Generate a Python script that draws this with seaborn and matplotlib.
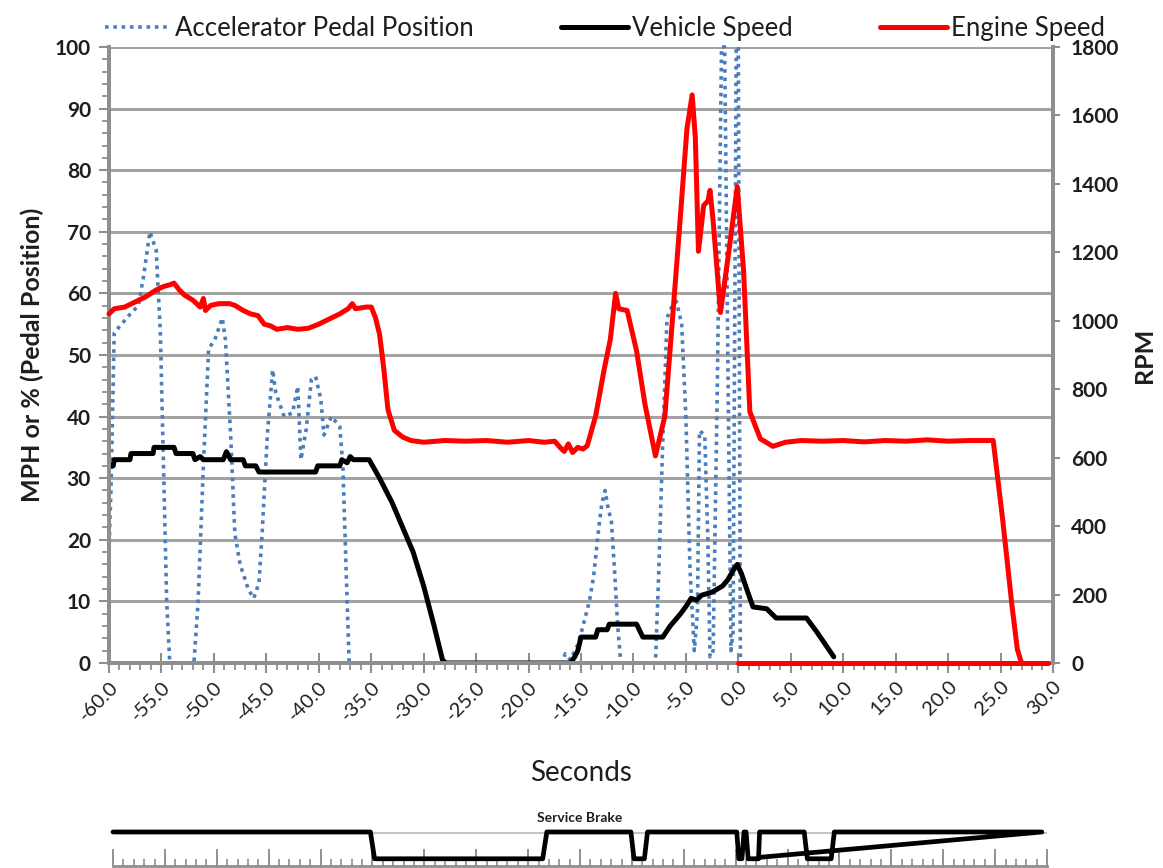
import numpy as np
import pandas as pd
import seaborn as sns
import matplotlib.pyplot as plt
from matplotlib.lines import Line2D
from matplotlib.ticker import MultipleLocator, FormatStrFormatter

# accelerator pedal position (%), seconds relative to event
pedal_t = [-60.0, -59.8, -59.5, -59.0, -58.0, -57.2, -56.7, -56.1, -55.5, -55.1, -54.8, -54.5, -54.2,
           -51.9, -51.5, -51.0, -50.5, -49.9, -49.2, -48.9, -48.4, -48.0, -47.5, -46.7, -46.2, -45.7,
           -45.4, -44.9, -44.4, -44.1, -43.3, -42.5, -42.0, -41.7, -41.2, -40.7, -40.3, -39.8, -39.5,
           -38.8, -38.0, -37.7, -37.4, -37.1,
           -16.8, -16.5, -16.0, -15.3, -14.9, -14.2, -13.8, -13.3, -13.0, -12.7, -12.4, -12.1, -11.8,
           -11.5, -11.2,
           -7.9, -7.6, -7.2, -6.8, -6.3, -5.9, -5.4, -5.0, -4.6, -4.2, -3.9, -3.7, -3.2, -2.9, -2.7,
           -2.4, -2.0, -1.6, -1.3, -1.0, -0.7, -0.5, -0.2, 0.0, 0.2]
pedal_v = [18, 29, 53.6, 54.6, 56.6, 58, 62.8, 70, 67, 53.6, 32, 10, 0,
           0, 10, 32, 51, 52.5, 56, 52.5, 37, 21, 16, 11.9, 10.5, 13,
           21, 37, 47.6, 43.9, 40, 40.6, 44.9, 33, 37.9, 46, 46.5, 42.8, 37,
           40, 38.4, 32, 15.6, 0,
           0, 1.5, 0.5, 3, 5.4, 10, 14, 22, 26, 28, 25, 23, 15,
           6, 0,
           0, 14, 36, 56, 58, 58.7, 55, 40, 15, 2, 8, 37.7, 37, 20, 1,
           2, 45, 100, 100, 50, 2, 5, 100, 100, 0]

# vehicle speed (MPH)
speed_t = [-60.0, -59.6, -59.5, -58.0, -57.9, -55.8, -55.7, -53.8, -53.6, -52.0, -51.8, -51.3, -51.0,
           -49.1, -48.8, -48.4, -47.2, -47.0, -46.0, -45.7, -40.3, -40.1, -38.0, -37.8, -37.3, -37.0,
           -36.7, -35.2, -34.2, -33.0, -32.0, -31.0, -30.0, -29.0, -28.2, -27.9,
           -16.0, -15.6, -15.3, -15.0, -13.6, -13.4, -12.5, -12.3, -9.7, -9.1, -7.2, -6.5, -5.5, -4.9,
           -4.5, -4.0, -3.5, -2.5, -1.5, -1.0, -0.5, -0.1, 0.3, 0.8, 1.4, 2.7, 3.6, 6.5, 7.5, 8.5, 9.1]
speed_v = [32, 32, 33, 33, 34, 34, 35, 35, 34, 34, 33, 33.5, 33,
           33, 34.3, 33, 33, 32, 32, 31, 31, 32, 32, 33, 32.5, 33.5,
           33, 33, 30, 26, 22, 18, 12.5, 6, 0.5, 0,
           0, 1, 2, 4.2, 4.2, 5.4, 5.4, 6.3, 6.3, 4.2, 4.2, 6, 8, 9.4,
           10.5, 10.2, 11, 11.5, 12.5, 13.5, 15, 16, 14.5, 12, 9.1, 8.8, 7.3, 7.3, 5, 2.5, 1]

# engine speed (RPM)
rpm_t = [-60.0, -59.5, -58.5, -57.5, -56.5, -55.5, -54.8, -54.2, -53.8, -53.3, -52.8, -52.0, -51.3,
         -51.0, -50.8, -50.3, -49.5, -48.5, -48.0, -47.2, -46.5, -45.8, -45.2, -44.6, -44.0, -43.0,
         -42.0, -41.0, -40.0, -39.0, -38.0, -37.2, -36.8, -36.5, -35.5, -35.0, -34.6, -34.2, -33.8,
         -33.4, -32.8, -32.0, -31.2, -30.0, -28.0, -26.0, -24.0, -22.0, -20.0, -18.5, -17.5, -17.0,
         -16.6, -16.2, -15.8, -15.3, -14.8, -14.4, -13.6, -12.8, -12.2, -11.7, -11.4, -10.6, -9.7,
         -8.9, -7.9, -7.0, -6.2, -5.5, -4.9, -4.4, -4.1, -3.8, -3.3, -2.9, -2.7, -2.4, -1.7, -0.9,
         -0.1, 0.5, 1.1, 2.1, 3.3, 4.5, 6.0, 8.0, 10.0, 12.0, 14.0, 16.0, 18.0, 20.0, 22.0, 24.3,
         25.2, 26.1, 26.6, 27.0]
rpm_v = [1020, 1035, 1040, 1055, 1070, 1090, 1100, 1105, 1110, 1090, 1075, 1060, 1040,
         1065, 1030, 1045, 1050, 1050, 1045, 1030, 1020, 1015, 990, 985, 975, 980,
         975, 978, 990, 1005, 1020, 1035, 1050, 1035, 1040, 1040, 1010, 960, 860,
         740, 680, 660, 650, 645, 650, 648, 650, 645, 650, 645, 648, 630,
         618, 640, 615, 630, 625, 635, 722, 856, 946, 1080, 1035, 1030, 912,
         756, 605, 722, 1035, 1314, 1560, 1660, 1537, 1203, 1337, 1350, 1381, 1292, 1024, 1203,
         1392, 1147, 734, 655, 633, 645, 650, 648, 650, 646, 650, 648, 652, 648, 650, 650,
         420, 165, 40, 0]
# engine speed recorded after the event (zero)
rpm_post_t = [0.0, 29.5]
rpm_post_v = [0, 0]

# service brake on/off (last point closes back to 2.2 s as in the source chart)
brake_t = [-60.0, -35.2, -34.8, -18.6, -18.2, -10.1, -9.8, -8.8, -8.5, 0.1, 0.3, 0.6, 0.8, 1.0,
           1.2, 2.2, 2.3, 6.6, 6.9, 9.2, 9.5, 29.5, 2.2]
brake_v = [1, 1, 0, 0, 1, 1, 0, 0, 1, 1, 0, 0, 1, 1,
           0, 0, 1, 1, 0, 0, 1, 1, 0.05]

sns.set_style("white")
plt.rcParams['font.family'] = ['Lato', 'DejaVu Sans']
txt = '#1e1e1e'
grey = '#8f8f8f'

fig = plt.figure(figsize=(11.63, 8.68), dpi=100)
ax = fig.add_axes([0.0937, 0.2362, 0.8117, 0.7097])
ax2 = ax.twinx()

pedal_color = '#4a7ebb'
sns.lineplot(x=pedal_t, y=pedal_v, ax=ax, color=pedal_color, lw=2.6, sort=False,
             estimator=None, linestyle=(0, (1, 1.3)), zorder=3, clip_on=False)
sns.lineplot(x=speed_t, y=speed_v, ax=ax, color='black', lw=3.6, sort=False, estimator=None,
             zorder=4)
sns.lineplot(x=rpm_t, y=rpm_v, ax=ax2, color='#ff0000', lw=3.6, sort=False, estimator=None,
             zorder=4, clip_on=False)
sns.lineplot(x=rpm_post_t, y=rpm_post_v, ax=ax2, color='#ff0000', lw=3.6, sort=False,
             estimator=None, clip_on=False, zorder=5)

ax.set_xlim(-60, 30)
ax.set_ylim(0, 100)
ax2.set_ylim(0, 1800)

ax.xaxis.set_major_locator(MultipleLocator(5))
ax.xaxis.set_minor_locator(MultipleLocator(1))
ax.xaxis.set_major_formatter(FormatStrFormatter('%.1f'))
ax.yaxis.set_major_locator(MultipleLocator(10))
ax.yaxis.set_minor_locator(MultipleLocator(2))
ax2.yaxis.set_major_locator(MultipleLocator(200))

ax.set_axisbelow(True)
ax.yaxis.grid(True, color='#a3a3a3', lw=2.2)
ax.xaxis.grid(False)

for a in (ax, ax2):
    a.spines['top'].set_visible(False)
    for s in ('left', 'right', 'bottom'):
        a.spines[s].set_color(grey)
        a.spines[s].set_linewidth(2.8)
        a.spines[s].set_zorder(1)

ax.tick_params(axis='y', which='major', direction='out', length=7, width=1.5, color=grey,
               labelsize=15, labelcolor=txt, pad=6)
ax.tick_params(axis='y', which='minor', direction='out', length=5, width=1.3, color=grey, left=True)
ax.tick_params(axis='x', which='major', direction='inout', length=14, width=1.5, color=grey,
               labelsize=14.5, labelcolor=txt, pad=4, bottom=True)
ax.tick_params(axis='x', which='minor', direction='out', length=5, width=1.3, color=grey, bottom=True)
ax2.tick_params(axis='y', which='major', direction='out', length=5, width=1.5, color=grey,
                labelsize=15, labelcolor=txt, pad=8)
for lab in ax.get_yticklabels() + ax2.get_yticklabels():
    lab.set_fontweight('bold')
plt.setp(ax.get_xticklabels(), rotation=45, ha='right', rotation_mode='anchor')

ax.set_xlabel('Seconds', fontsize=20, color=txt, labelpad=26)
ax.set_ylabel('MPH or % (Pedal Position)', fontsize=18, fontweight='bold', color=txt, labelpad=8)
ax2.set_ylabel('RPM', fontsize=18, fontweight='bold', color=txt, labelpad=10)

handles = [Line2D([], [], color=pedal_color, lw=2.6, linestyle=(0, (1, 1.3))),
           Line2D([], [], color='black', lw=3.6),
           Line2D([], [], color='#ff0000', lw=3.6)]
fig.legend(handles, ['Accelerator Pedal Position', 'Vehicle Speed', 'Engine Speed'],
           loc='upper center', bbox_to_anchor=(0.52, 1.008), ncol=3, frameon=False,
           fontsize=18.5, handlelength=2.6, handletextpad=0.15, columnspacing=3.4,
           labelcolor=txt)

# service brake strip
axb = fig.add_axes([0.0972, 0.0023, 0.8031, 0.0392])
axb.axhline(1, color='#c4c4c4', lw=3, zorder=0)
sns.lineplot(x=brake_t, y=brake_v, ax=axb, color='black', lw=3.4, sort=False, estimator=None,
             clip_on=False)
axb.set_xlim(-60, 30)
axb.set_ylim(-0.27, 1.0)
axb.set_yticks([])
axb.xaxis.set_major_locator(MultipleLocator(5))
axb.xaxis.set_minor_locator(MultipleLocator(1))
axb.tick_params(axis='x', which='major', direction='in', length=12, width=1.4, color=grey,
                labelbottom=False, bottom=True)
axb.tick_params(axis='x', which='minor', direction='in', length=5, width=1.2, color=grey, bottom=True)
for s in ('left', 'right', 'top'):
    axb.spines[s].set_visible(False)
axb.spines['bottom'].set_color(grey)
axb.spines['bottom'].set_linewidth(2)
axb.set_xlabel('')
axb.set_title('Service Brake', fontsize=10, fontweight='bold', color=txt, pad=7)

fig.savefig('out.png', dpi=100)
